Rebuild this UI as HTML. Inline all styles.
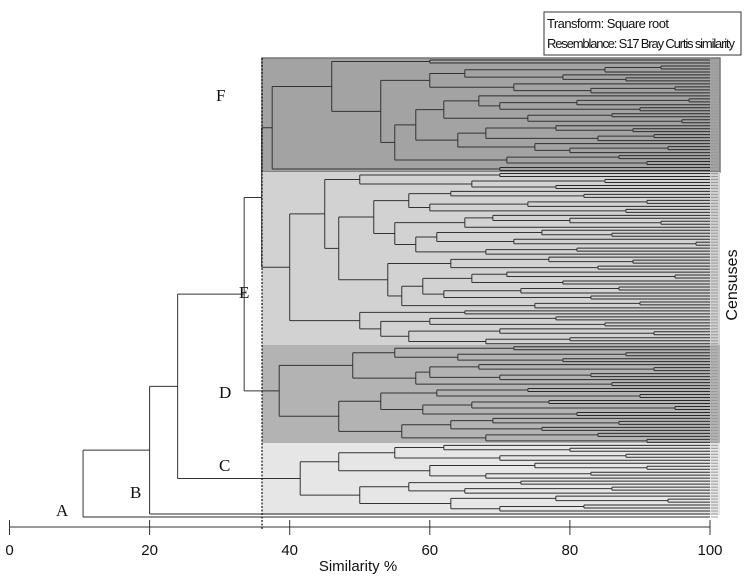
<!DOCTYPE html>
<html><head><meta charset="utf-8">
<style>
html,body{margin:0;padding:0;background:#fff;}
svg{display:block;}
text{font-family:"Liberation Sans",sans-serif;}
.let{font-family:"Liberation Serif",serif;font-size:17px;fill:#111;}
</style></head>
<body>
<svg id="chart" width="750" height="582" viewBox="0 0 750 582">
  <rect x="262" y="58" width="458" height="114" fill="#a3a3a3" stroke="#777" stroke-width="1.5"/>
  <rect x="262" y="172" width="458" height="173" fill="#d2d2d2"/>
  <rect x="262" y="345" width="458" height="98" fill="#b3b3b3"/>
  <rect x="262" y="443" width="458" height="72" fill="#e6e6e6"/>
  <g id="tree"></g>
  <line x1="262" y1="58" x2="262" y2="530" stroke="#111" stroke-width="1.2" stroke-dasharray="2,1.5"/>
  <g id="axis"></g>
  <text x="358" y="571" font-size="15" text-anchor="middle" fill="#111">Similarity %</text>
  <text transform="translate(737,285) rotate(-90)" font-size="16" text-anchor="middle" fill="#111">Censuses</text>
  <g>
    <rect x="544" y="12" width="197" height="43" fill="#fff" stroke="#333" stroke-width="1"/>
    <text x="547" y="28" font-size="13" fill="#111" textLength="122">Transform: Square root</text>
    <text x="547" y="48" font-size="13" fill="#111" textLength="188">Resemblance: S17 Bray Curtis similarity</text>
  </g>
  <text class="let" x="216" y="101">F</text>
  <text class="let" x="239" y="298">E</text>
  <text class="let" x="219" y="398">D</text>
  <text class="let" x="219" y="471">C</text>
  <text class="let" x="130" y="498">B</text>
  <text class="let" x="56" y="516">A</text>
</svg>
<script>
// merge similarity between consecutive leaves (top to bottom)
const gapsF = [60,46,93,85,65,79,88,60,72,95,83,53,67,97,81,70,90,62,86,74,96,58,78,89,68,92,84,64,75,94,80,55,87,71,91,37.5,70];
const gapsE = [70,50,85,66,78,45,63,82,57,91,74,60,88,52,69,80,93,65,55,76,86,61,72,98,58,81,68,47,77,89,63,84,54,71,95,66,79,59,87,73,62,83,56,90,75,40,65,50,78,60,85,53,70,92,57,80,68];
const gapsD = [72,55,88,64,79,49,67,92,60,83,70,58,86,38.5,74,61,90,53,77,66,95,59,81,47,69,87,63,76,56,84,68,91];
const gapsC = [62,80,55,88,70,47,75,91,60,83,68,41.5,73,57,86,65,50,78,94,63,82,70];
const groupJoins = [36, 33.5, 24, 20, 10.5];
const xTicks = [0,20,40,60,80,100];

const gaps = [].concat(gapsF,[groupJoins[0]],gapsE,[groupJoins[1]],gapsD,[groupJoins[2]],gapsC,[groupJoins[3]],[groupJoins[4]]);
const nLeaves = gaps.length + 1;
function sx(v){ return 9.5 + v*7.005; }
function sy(i){ return 60 + i*(457/(nLeaves-1)); }
const NS = "http://www.w3.org/2000/svg";
const tree = document.getElementById('tree');
function line(x1,y1,x2,y2,stroke,name){
  const l = document.createElementNS(NS,'line');
  l.setAttribute('x1',x1);l.setAttribute('y1',y1);l.setAttribute('x2',x2);l.setAttribute('y2',y2);
  l.setAttribute('stroke',stroke);l.setAttribute('stroke-width','1');
  
  
  tree.appendChild(l);
}
function build(a,b,parentX){
  if(a===b){
    const y = sy(a);
    line(sx(parentX),y,sx(100),y,'#2a2a2a','leaf-branch');
    return y;
  }
  let k=a;
  for(let i=a;i<b;i++){ if(gaps[i]<gaps[k]) k=i; }
  const h = gaps[k];
  const y1 = build(a,k,h), y2 = build(k+1,b,h);
  line(sx(h),y1,sx(h),y2,'#333','node-link');
  const y = (y1+y2)/2;
  if(parentX!==null) line(sx(parentX),y,sx(h),y,'#333','node-branch');
  return y;
}
build(0,nLeaves-1,null);
// right tick strip
for(let i=0;i<nLeaves;i++){
  line(711,sy(i),718,sy(i),'#999','leaf-tick');
}
// axis
const ax = document.getElementById('axis');
const base = document.createElementNS(NS,'line');
base.setAttribute('x1',sx(0));base.setAttribute('x2',sx(100));base.setAttribute('y1',527);base.setAttribute('y2',527);
base.setAttribute('stroke','#333');


ax.appendChild(base);
xTicks.forEach(t=>{
  const tk = document.createElementNS(NS,'line');
  tk.setAttribute('x1',sx(t));tk.setAttribute('x2',sx(t));tk.setAttribute('y1',520);tk.setAttribute('y2',535);
  tk.setAttribute('stroke','#333');
  
  
  ax.appendChild(tk);
  const tx = document.createElementNS(NS,'text');
  tx.setAttribute('x',sx(t));tx.setAttribute('y',555);tx.setAttribute('text-anchor','middle');
  tx.setAttribute('font-size','15');tx.setAttribute('fill','#111');
  
  
  tx.textContent = t;
  ax.appendChild(tx);
});
</script>
</body></html>
